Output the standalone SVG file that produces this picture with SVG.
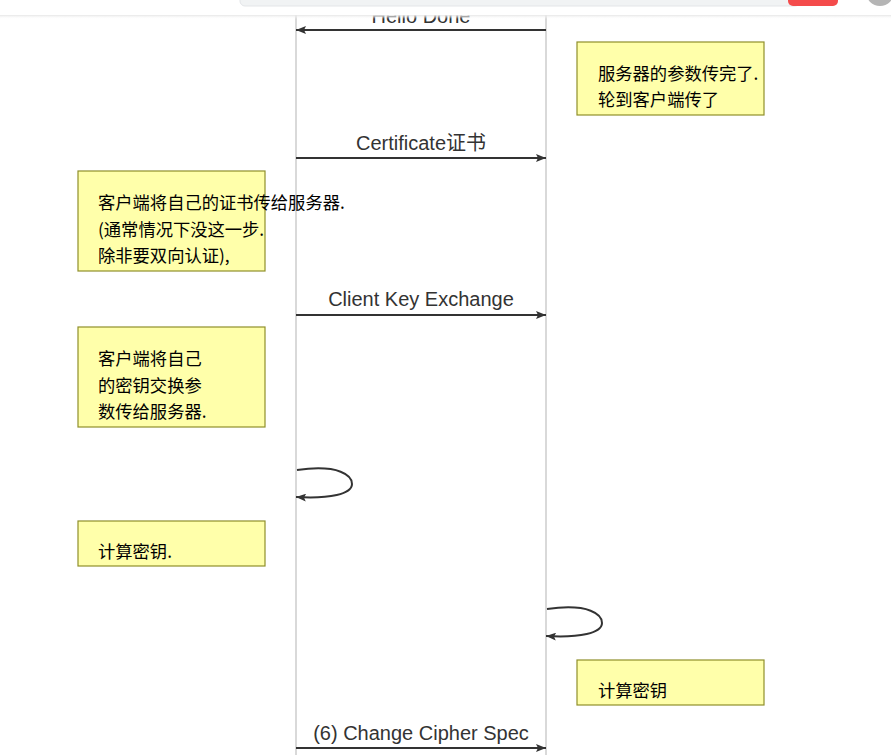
<svg xmlns="http://www.w3.org/2000/svg" width="891" height="755" viewBox="0 0 891 755">
<defs>
<marker id="ah" viewBox="0 0 10 8" refX="10" refY="4" markerWidth="10" markerHeight="8" markerUnits="userSpaceOnUse" orient="auto">
<path d="M0,0 L10,4 L0,8 L2,4 Z" fill="#333"/>
</marker>
<linearGradient id="sh" x1="0" y1="0" x2="0" y2="1">
<stop offset="0" stop-color="#e6e6e6"/>
<stop offset="1" stop-color="#ffffff" stop-opacity="0"/>
</linearGradient>
</defs>
<style>
.life{stroke:#cccccc;stroke-width:1.5;fill:none}
.msg{stroke:#333333;stroke-width:2;fill:none}
.lbl{font-family:"Liberation Sans",Arial,"Noto Sans CJK SC",sans-serif;font-size:20px;fill:#333333;text-anchor:middle}
.note rect{fill:#ffffaa;stroke:#8f8f2a;stroke-width:1.2}
.note text{font-family:"Noto Sans CJK SC","Liberation Sans",sans-serif;font-size:17.3px;fill:#000000}
</style>
<rect width="891" height="755" fill="#ffffff"/>
<g id="lifelines">
<line class="life" x1="296" y1="10" x2="296" y2="755"/>
<line class="life" x1="546" y1="10" x2="546" y2="755"/>
</g>
<g id="connectors">
<text class="lbl" x="421" y="23">Hello Done</text>
<line class="msg" x1="546" y1="30" x2="296" y2="30" marker-end="url(#ah)"/>
<text class="lbl" x="421" y="150">Certificate证书</text>
<line class="msg" x1="296" y1="158" x2="546" y2="158" marker-end="url(#ah)"/>
<text class="lbl" x="421" y="306">Client Key Exchange</text>
<line class="msg" x1="296" y1="315" x2="546" y2="315" marker-end="url(#ah)"/>
<path class="msg" d="M297,470 C340,464 352,476 352,484 C352,494 330,499 296,497" marker-end="url(#ah)"/>
<path class="msg" d="M547,609 C590,603 602,615 602,623 C602,633 580,638 546,636" marker-end="url(#ah)"/>
<text class="lbl" x="421" y="740">(6) Change Cipher Spec</text>
<line class="msg" x1="296" y1="748" x2="546" y2="748" marker-end="url(#ah)"/>
</g>
<g id="note1" class="note">
<rect x="577" y="42" width="187" height="73"/>
<text x="598" y="80">服务器的参数传完了.</text>
<text x="598" y="106">轮到客户端传了</text>
</g>
<g id="note2" class="note">
<rect x="78" y="171" width="187" height="100"/>
<text x="98" y="209">客户端将自己的证书传给服务器.</text>
<text x="98" y="236">(通常情况下没这一步.</text>
<text x="98" y="262">除非要双向认证),</text>
</g>
<g id="note3" class="note">
<rect x="78" y="327" width="187" height="100"/>
<text x="98" y="365">客户端将自己</text>
<text x="98" y="392">的密钥交换参</text>
<text x="98" y="418">数传给服务器.</text>
</g>
<g id="note4" class="note">
<rect x="78" y="521" width="187" height="45"/>
<text x="98" y="558">计算密钥.</text>
</g>
<g id="note5" class="note">
<rect x="577" y="660" width="187" height="45"/>
<text x="598" y="697">计算密钥</text>
</g>
<g id="browser-overlay">
<rect x="0" y="0" width="891" height="15" fill="#ffffff"/>
<rect x="0" y="15" width="891" height="4" fill="url(#sh)"/>
<rect x="240" y="-10" width="560" height="16" rx="5" fill="#f1f3f4" stroke="#e3e5e8" stroke-width="1"/>
<rect x="788" y="-10" width="50" height="16" rx="5" fill="#f44b4b"/>
<circle cx="880" cy="-8" r="14" fill="#b5b5b5"/>
</g>
</svg>
